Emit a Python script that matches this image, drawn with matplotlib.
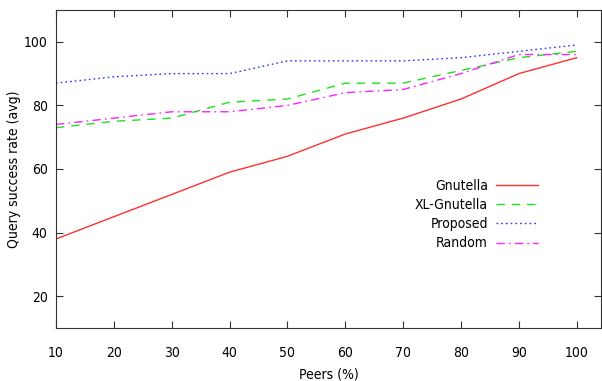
import matplotlib
matplotlib.use("Agg")
import matplotlib.pyplot as plt

peers = [10, 20, 30, 40, 50, 60, 70, 80, 90, 100]
gnutella = [38, 45, 52, 59, 64, 71, 76, 82, 90, 95]
xl_gnutella = [73, 75, 76, 81, 82, 87, 87, 91, 95, 97]
proposed = [87, 89, 90, 90, 94, 94, 94, 95, 97, 99]
random_sel = [74, 76, 78, 78, 80, 84, 85, 90, 96, 96]

plt.rcParams["font.family"] = ["DejaVu Sans"]
plt.rcParams["font.stretch"] = "condensed"
plt.rcParams["font.size"] = 10

fig = plt.figure(figsize=(6.02, 3.81), dpi=100)
ax = fig.add_axes([56 / 602, 53 / 381, 545 / 602, 318 / 381])

ax.plot(peers, gnutella, color="#ff3030", lw=1.0, label="Gnutella")
ax.plot(peers, xl_gnutella, color="#20e020", lw=1.0, dashes=(6, 5), label="XL-Gnutella")
ax.plot(peers, proposed, color="#3030ff", lw=1.0, dashes=(1.2, 2.2), label="Proposed")
ax.plot(peers, random_sel, color="#ff20ff", lw=1.0, dashes=(6, 3, 1.2, 3), label="Random")

ax.set_xlim(10, 104.2)
ax.set_ylim(10, 110)
ax.set_xticks(peers)
ax.set_yticks([20, 40, 60, 80, 100])
ax.tick_params(direction="in", length=5, top=True, right=True, colors="#333333",
               labelcolor="black")
ax.tick_params(axis="x", pad=13)
ax.tick_params(axis="y", pad=6)
for s in ax.spines.values():
    s.set_color("#333333")

ax.set_xlabel("Peers (%)", labelpad=5)
ax.set_ylabel("Query success rate (avg)")
ax.yaxis.set_label_coords(-0.064, 0.5)

ax.legend(loc="upper right", bbox_to_anchor=(0.884, 0.47),
          frameon=False, markerfirst=False, handlelength=3.0, handletextpad=0.6,
          labelspacing=0.38, borderpad=0, borderaxespad=0)

fig.savefig("out.png", dpi=100)
